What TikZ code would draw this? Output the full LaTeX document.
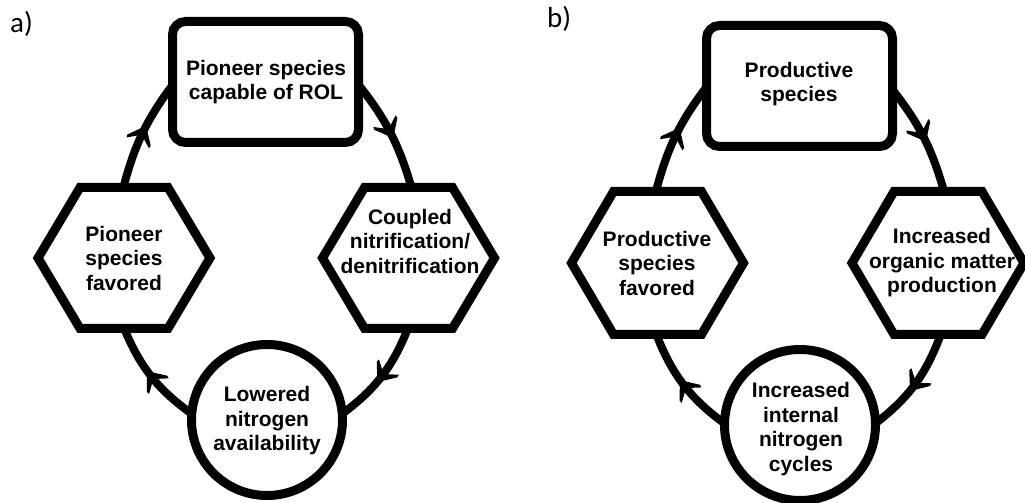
\documentclass[tikz,border=0pt]{standalone}
\usepackage{fontspec}
\setmainfont{Liberation Sans}
\newfontfamily\panelfont{Carlito}
\usetikzlibrary{calc,decorations.markings,backgrounds}
\tikzset{
  boxline/.style={line width=9pt, draw=black, fill=white},
  rectbox/.style={boxline, rectangle, rounded corners=13pt, minimum width=186pt, minimum height=121pt, inner sep=0pt},
  circbox/.style={boxline, circle, minimum size=151pt, inner sep=0pt},
  lbl/.style={font=\bfseries\fontsize{21}{24.5}\selectfont, align=center, inner sep=0pt},
  cyc/.style={line width=8pt, postaction={decorate},
    decoration={markings, mark=at position 0.5 with {\fill[black] (7,0) -- (-9,13) -- (-12,12.5) -- (-3,0) -- (-12,-12.5) -- (-9,-13) -- cycle;}}},
  panel/.style={font=\panelfont\fontsize{29}{31}\selectfont, anchor=base west, inner sep=0pt},
}
\newcommand\hexpath[3]{%
  \draw[boxline, line join=miter] ($(#1)+(-#2,0)$) -- ($(#1)+(-#2+42,#3)$) -- ($(#1)+(#2-42,#3)$) -- ($(#1)+(#2,0)$) -- ($(#1)+(#2-42,-#3)$) -- ($(#1)+(-#2+42,-#3)$) -- cycle;}
\begin{document}
\begin{tikzpicture}[x=1pt,y=1pt]
\useasboundingbox (0,0) rectangle (1025,503);
% ---------- panel a ----------
\node[panel] (la) at (10,470) {a)};
\node[rectbox] (rA) at (265.5,421) {};
\node[lbl] (rAt) at (266,421) {Pioneer species\\capable of ROL};
\coordinate (hALc) at (124,245);
\hexpath{hALc}{86}{70.5}
\node[lbl] (hAL) at (124,245) {Pioneer\\species\\favored};
\coordinate (hARc) at (408.5,245);
\hexpath{hARc}{86}{70.5}
\node[lbl] (hAR) at (410,262) {Coupled\\nitrification/\\denitrification};
\node[circbox] (cA) at (267,83) {};
\node[lbl] (cAt) at (267,82) {Lowered\\nitrogen\\availability};
% ---------- panel b ----------
\node[panel] (lb) at (547,475) {b)};
\node[rectbox] (rB) at (799.5,417) {};
\node[lbl] (rBt) at (799,419) {Productive\\species};
\coordinate (hBLc) at (657.5,240);
\hexpath{hBLc}{86}{71.5}
\node[lbl] (hBL) at (657,240) {Productive\\species\\favored};
\coordinate (hBRc) at (938,240);
\hexpath{hBRc}{86}{71.5}
\node[lbl] (hBR) at (942,240) {Increased\\organic matter\\production};
\node[circbox] (cB) at (800,78) {};
\node[lbl] (cBt) at (801,74) {Increased\\internal\\nitrogen\\cycles};
% ---------- connectors ----------
\coordinate (a1s) at (122,310);
\coordinate (a1e) at (178,425);
\coordinate (a2s) at (353,425);
\coordinate (a2e) at (413,310);
\coordinate (a3s) at (410,180);
\coordinate (a3e) at ($(cA)+(2:70)$);
\coordinate (a4s) at ($(cA)+(178:70)$);
\coordinate (a4e) at (122,180);
\coordinate (b1s) at (655,308);
\coordinate (b1e) at (712,423);
\coordinate (b2s) at (887,420);
\coordinate (b2e) at (945,308);
\coordinate (b3s) at (942,172);
\coordinate (b3e) at ($(cB)+(-2:70)$);
\coordinate (b4s) at ($(cB)+(182:70)$);
\coordinate (b4e) at (655,172);
\begin{scope}[on background layer]
\draw[cyc] (a1s) to[bend left=12] (a1e);
\draw[cyc] (a2s) to[bend left=12] (a2e);
\draw[cyc] (a3s) to[bend left=17] (a3e);
\draw[cyc] (a4s) to[bend left=17] (a4e);
\draw[cyc] (b1s) to[bend left=12] (b1e);
\draw[cyc] (b2s) to[bend left=12] (b2e);
\draw[cyc] (b3s) to[bend left=17] (b3e);
\draw[cyc] (b4s) to[bend left=17] (b4e);
\end{scope}
\end{tikzpicture}
\end{document}
